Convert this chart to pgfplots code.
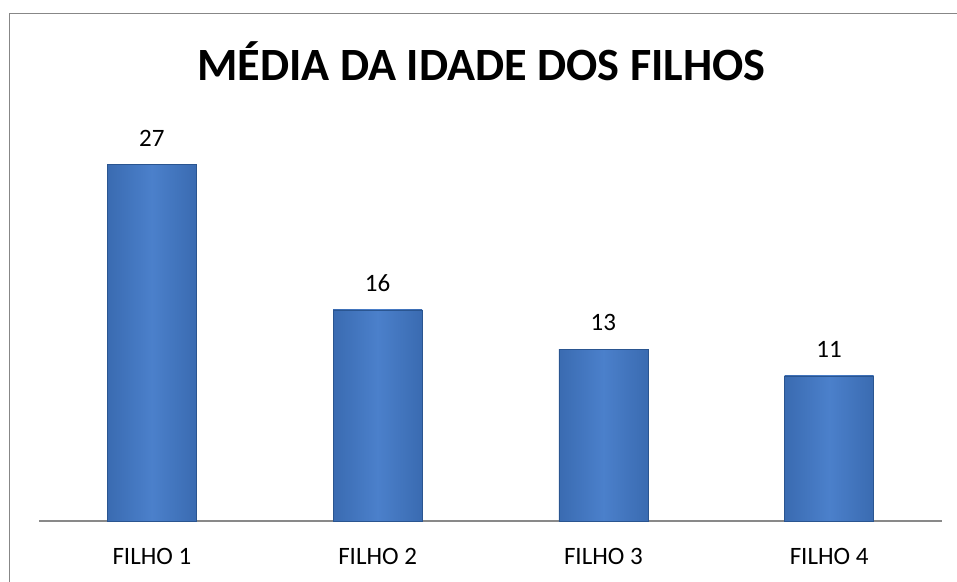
\documentclass[border=0pt]{standalone}
\usepackage{pgfplots}
\pgfplotsset{compat=1.18}
\usepackage{fontspec}
\setmainfont{Carlito}
\definecolor{framegray}{HTML}{878787}
\definecolor{axgray}{HTML}{898989}
\definecolor{bardark}{HTML}{3A6BB1}
\definecolor{barmid}{HTML}{4B80CB}
\definecolor{baredge}{HTML}{2A5590}
\begin{document}
\begin{tikzpicture}
\useasboundingbox (0,0) rectangle (382.8pt,-232.8pt);
\draw[framegray, line width=0.55pt] (382.8pt,-5.5pt) -- (3.9pt,-5.5pt) -- (3.9pt,-232.8pt);
\node[font=\fontsize{18.5}{22}\selectfont\bfseries] at (192.6pt,-24.6pt) {MÉDIA DA IDADE DOS FILHOS};
\begin{axis}[
  at={(15.6pt,-208.4pt)}, anchor=south west,
  scale only axis, width=361.2pt, height=158.3pt,
  xmin=-0.5, xmax=3.5, ymin=0, ymax=30,
  axis x line=bottom, axis y line=none,
  axis line style={axgray, line width=0.5pt, -},
  xtick={0,1,2,3},
  xticklabels={FILHO 1, FILHO 2, FILHO 3, FILHO 4},
  major tick length=0pt,
  xticklabel style={font=\fontsize{10}{12}\selectfont, yshift=-7.5pt},
  /pgf/number format/assume math mode=true,
  nodes near coords,
  every node near coord/.append style={font=\fontsize{10}{12}\selectfont, yshift=4pt, text=black},
  clip=false,
  barsty/.style={ybar, bar width=35.6pt, bar shift=0pt, draw=baredge, line width=0.3pt,
    left color=bardark, right color=bardark, middle color=barmid},
]
\addplot[barsty] coordinates {(0,27)};
\addplot[barsty] coordinates {(1,16)};
\addplot[barsty] coordinates {(2,13)};
\addplot[barsty] coordinates {(3,11)};
\end{axis}
\end{tikzpicture}
\end{document}
